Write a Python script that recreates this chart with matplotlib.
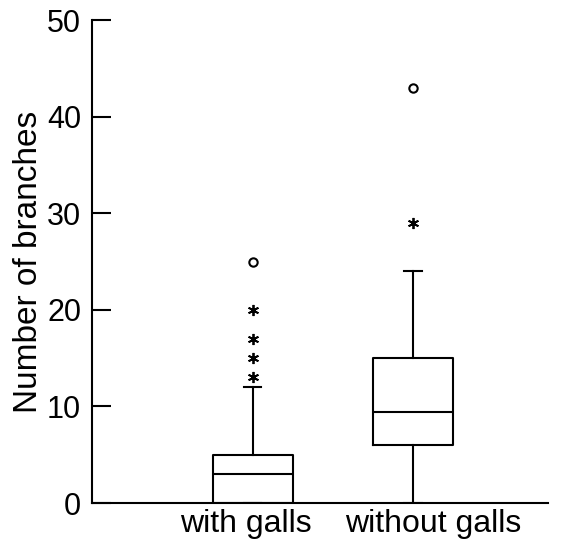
import matplotlib.pyplot as plt
import matplotlib.transforms as mtransforms

plt.rcParams['font.family'] = ['Liberation Sans', 'DejaVu Sans']

groups = ['with galls', 'without galls']
q1 = [0, 6]
medians = [3, 9.4]
q3 = [5, 15]
whisker_low = [0, 0]
whisker_high = [12, 24]
# SPSS-style outliers: circles = outliers, asterisks = extremes
outliers_circle = [[25], [43]]
outliers_star = [[13, 15, 17, 20], [29]]


def main():
	fig = plt.figure(figsize=(5.69, 5.45), dpi=100)
	ax = fig.add_axes([0.162, 0.077, 0.801, 0.886])

	stats = []
	for i in range(len(groups)):
		stats.append({'med': medians[i], 'q1': q1[i], 'q3': q3[i],
					  'whislo': whisker_low[i], 'whishi': whisker_high[i],
					  'fliers': [], 'label': groups[i]})
	pos = [1, 2]
	ax.bxp(stats, positions=pos, widths=0.5, showfliers=False,
		   boxprops=dict(color='black', linewidth=1.5),
		   medianprops=dict(color='black', linewidth=1.5),
		   whiskerprops=dict(color='black', linewidth=1.5),
		   capprops=dict(color='black', linewidth=1.5),
		   capwidths=0.11)

	for i in range(len(groups)):
		ax.plot([pos[i]] * len(outliers_circle[i]), outliers_circle[i], linestyle='none',
				marker='o', markersize=6, markerfacecolor='white', markeredgecolor='black',
				markeredgewidth=1.5)
		ax.plot([pos[i]] * len(outliers_star[i]), outliers_star[i], linestyle='none',
				marker=(6, 2, 0), markersize=8, color='black', markeredgewidth=1.3)

	ax.set_xlim(0.0, 2.84)
	ax.set_ylim(0, 50)
	ax.set_yticks([0, 10, 20, 30, 40, 50])
	ax.set_ylabel('Number of branches', fontsize=24, labelpad=2)
	ax.tick_params(axis='y', direction='in', length=14, width=1.5, labelsize=22, pad=8)
	ax.tick_params(axis='x', length=0, labelsize=23, pad=4)
	# labels in the original sit a little off the box centres
	shifts = [-7, 20]
	for lab, dx in zip(ax.get_xticklabels(), shifts):
		lab.set_transform(lab.get_transform() + mtransforms.ScaledTranslation(dx / 100, 0, fig.dpi_scale_trans))
	ax.spines['top'].set_visible(False)
	ax.spines['right'].set_visible(False)
	ax.spines['left'].set_linewidth(1.5)
	ax.spines['bottom'].set_linewidth(1.5)

	fig.savefig('out.png', dpi=100)


if __name__ == "__main__":
	main()
